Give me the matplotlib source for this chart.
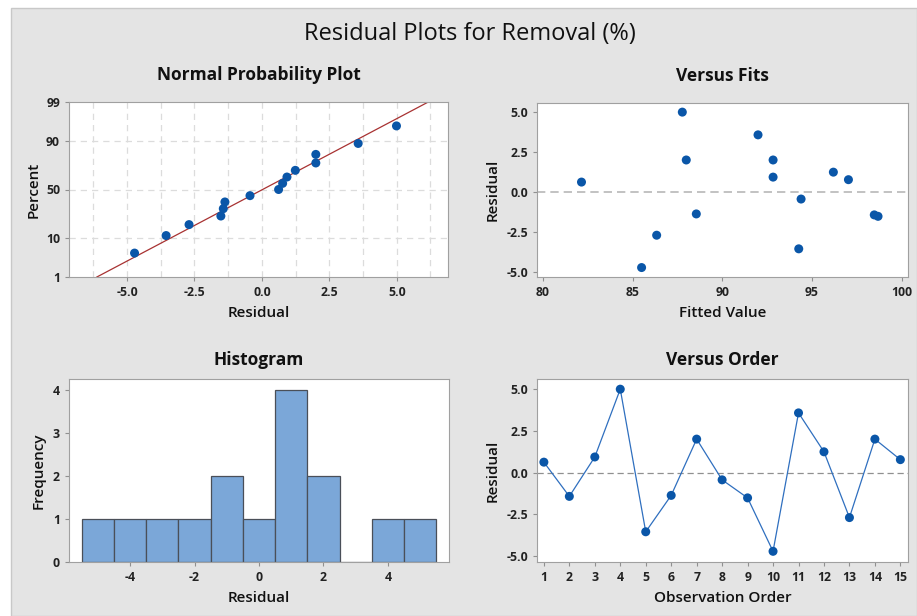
import numpy as np
import matplotlib
matplotlib.use("Agg")
import matplotlib.pyplot as plt
from matplotlib.patches import Rectangle
from statistics import NormalDist

plt.rcParams['font.family'] = ['Open Sans', 'DejaVu Sans']
plt.rcParams['axes.unicode_minus'] = False

# residuals in observation order and matching fitted values
obs_order = np.arange(1, 16)
residuals = np.array([0.62, -1.43, 0.93, 4.99, -3.55, -1.37, 2.0, -0.44,
                      -1.52, -4.72, 3.57, 1.24, -2.70, 2.0, 0.77])
fitted = np.array([82.15, 98.47, 92.83, 87.77, 94.26, 88.55, 87.99, 94.39,
                   98.68, 85.50, 91.99, 96.19, 86.34, 92.83, 97.03])

prob_ticks = [1, 10, 50, 90, 99]
hist_bins = np.arange(-5.5, 6.0, 1.0)

W, H = 917, 616
fig = plt.figure(figsize=(W / 100, H / 100), dpi=100, facecolor='white')
fig.patches.append(Rectangle((11 / W, 0), 1 - 11 / W, 1 - 8 / H, transform=fig.transFigure,
                             facecolor='#e4e4e4', edgecolor='#c8c8c8', lw=1, zorder=-10))

blue = '#0a56a8'
tick_col = '#222222'


def make_ax(left, top, right, bottom):
    ax = fig.add_axes([left / W, 1 - bottom / H, (right - left) / W, (bottom - top) / H])
    for s in ax.spines.values():
        s.set_color('#a0a0a0')
    ax.tick_params(colors='#909090', labelcolor=tick_col, labelsize=8.8, length=3, width=0.8)
    return ax


def style(ax, title, xlabel, ylabel, tpad, ypad):
    ax.set_title(title, fontsize=12.5, fontweight='bold', color='#111111', pad=tpad)
    ax.set_xlabel(xlabel, fontsize=11, fontweight='semibold', color='#111111', labelpad=5)
    ax.set_ylabel(ylabel, fontsize=11, fontweight='semibold', color='#111111', labelpad=ypad)
    for lab in ax.get_xticklabels() + ax.get_yticklabels():
        lab.set_fontweight('bold')


nd = NormalDist()

# Normal probability plot
ax1 = make_ax(69, 102, 448, 277)
n = len(residuals)
srt = np.sort(residuals)
pct = (np.arange(1, n + 1) - 0.3) / (n + 0.4)
z = np.array([nd.inv_cdf(p) for p in pct])
mu, sd = residuals.mean(), residuals.std(ddof=1)
zl = np.array([nd.inv_cdf(0.01), nd.inv_cdf(0.99)])
ax1.plot(mu + sd * zl, zl, color='#a83232', lw=0.9, zorder=2)
ax1.scatter(srt, z, s=42, color=blue, zorder=3, edgecolors='none')
for g in np.arange(-6.25, 6.5, 1.25):
    ax1.axvline(g, color='#dcdcdc', ls=(0, (5, 4)), lw=0.9, zorder=1)
for p in prob_ticks[1:-1]:
    ax1.axhline(nd.inv_cdf(p / 100), color='#dcdcdc', ls=(0, (5, 4)), lw=0.9, zorder=1)
ax1.set_ylim(zl[0], zl[1])
ax1.set_yticks([nd.inv_cdf(p / 100) for p in prob_ticks])
ax1.set_yticklabels([str(p) for p in prob_ticks])
ax1.set_xlim(-7.15, 6.9)
ax1.set_xticks([-5, -2.5, 0, 2.5, 5])
ax1.set_xticklabels(['-5.0', '-2.5', '0.0', '2.5', '5.0'])
style(ax1, 'Normal Probability Plot', 'Residual', 'Percent', 16, 4)

# Versus fits
ax2 = make_ax(537, 103, 908, 277)
ax2.axhline(0, color='#b8b8b8', ls=(0, (5, 3)), lw=1.2, zorder=1)
ax2.scatter(fitted, residuals, s=42, color=blue, zorder=3, edgecolors='none')
ax2.set_xlim(79.67, 100.35)
ax2.set_ylim(-5.31, 5.56)
ax2.set_xticks([80, 85, 90, 95, 100])
ax2.set_yticks([-5, -2.5, 0, 2.5, 5])
ax2.set_yticklabels(['-5.0', '-2.5', '0.0', '2.5', '5.0'])
style(ax2, 'Versus Fits', 'Fitted Value', 'Residual', 16, 5)

# Histogram
ax3 = make_ax(69, 379, 449, 562)
ax3.hist(residuals, bins=hist_bins, color='#7ba7d8', edgecolor='#4a4f58', lw=0.9)
ax3.set_xlim(-5.9, 5.9)
ax3.set_ylim(0, 4.25)
ax3.set_xticks([-4, -2, 0, 2, 4])
ax3.set_yticks([0, 1, 2, 3, 4])
style(ax3, 'Histogram', 'Residual', 'Frequency', 10, 5)

# Versus order
ax4 = make_ax(537, 379, 908, 562)
ax4.axhline(0, color='#909090', ls=(0, (5, 3)), lw=0.9, zorder=1)
ax4.plot(obs_order, residuals, color='#2f6fbf', lw=0.9, zorder=2)
ax4.scatter(obs_order, residuals, s=42, color=blue, zorder=3, edgecolors='none')
ax4.set_xlim(0.73, 15.3)
ax4.set_ylim(-5.36, 5.6)
ax4.set_xticks(obs_order)
ax4.set_yticks([-5, -2.5, 0, 2.5, 5])
ax4.set_yticklabels(['-5.0', '-2.5', '0.0', '2.5', '5.0'])
style(ax4, 'Versus Order', 'Observation Order', 'Residual', 10, 5)

fig.text(470 / W, 1 - 34 / H, 'Residual Plots for Removal (%)', ha='center', va='center',
         fontsize=17, color='#111111')

fig.savefig('out.png', dpi=100, facecolor='white')
